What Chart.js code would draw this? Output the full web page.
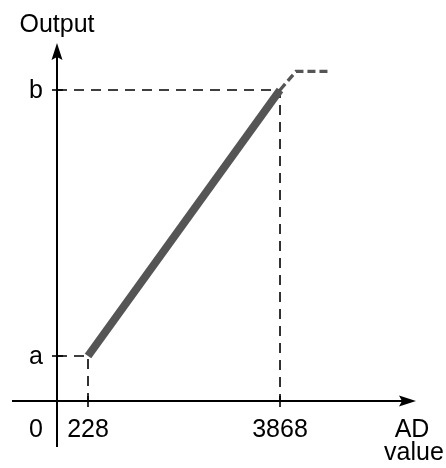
<!DOCTYPE html>
<html>
<head>
<meta charset="utf-8">
<script src="https://cdn.jsdelivr.net/npm/chart.js@4/dist/chart.umd.min.js"></script>
<style>
  html, body { margin: 0; padding: 0; background: #ffffff; }
  canvas { display: block; }
</style>
</head>
<body>
<canvas id="c" width="446" height="468"></canvas>
<script>
// ---- data ----
const xTickValues = [228, 3868];
const xTickLabels = ['228', '3868'];
const yTickValues = [1, 7];          // a, b
const yTickLabels = ['a', 'b'];
const adValues = [228, 3868];        // linear region, AD value
const outputValues = [1, 7];         // linear region, output (a .. b)
const satX = [3868, 4171, 4778];     // saturation (dashed) continuation
const satY = [7, 7.42, 7.42];
const xAxisTitle = ['AD', 'value'];
const yAxisTitle = 'Output';
const originLabel = '0';

const X_MIN = -359.7, X_MAX = 6446;
const Y_MIN = -0.015, Y_MAX = 8.06;

const FONT = '25px "Liberation Sans", Arial, sans-serif';

function pts(xs, ys) { return xs.map((x, i) => ({ x: x, y: ys[i] })); }

const guideA = [{ x: X_MIN, y: outputValues[0] }, { x: adValues[0], y: outputValues[0] }, { x: adValues[0], y: Y_MIN }];
const guideB = [{ x: X_MIN, y: outputValues[1] }, { x: adValues[1], y: outputValues[1] }, { x: adValues[1], y: Y_MIN }];

const axesPlugin = {
  id: 'axesPlugin',
  afterDatasetsDraw(chart) {
    const ctx = chart.ctx;
    const xs = chart.scales.x, ys = chart.scales.y;
    const ox = xs.left, oy = ys.bottom;
    const xEnd = xs.right, yEnd = ys.top;
    ctx.save();
    ctx.strokeStyle = '#000';
    ctx.fillStyle = '#000';
    ctx.lineWidth = 2;
    ctx.setLineDash([]);
    // x axis
    ctx.beginPath();
    ctx.moveTo(12, oy); ctx.lineTo(xEnd - 6, oy); ctx.stroke();
    // y axis
    ctx.beginPath();
    ctx.moveTo(ox, 447); ctx.lineTo(ox, yEnd + 6); ctx.stroke();
    // arrows
    ctx.beginPath();
    ctx.moveTo(xEnd, oy); ctx.lineTo(xEnd - 17, oy - 5.5); ctx.lineTo(xEnd - 14, oy); ctx.lineTo(xEnd - 17, oy + 5.5); ctx.closePath(); ctx.fill();
    ctx.beginPath();
    ctx.moveTo(ox, yEnd); ctx.lineTo(ox - 5.5, yEnd + 17); ctx.lineTo(ox, yEnd + 14); ctx.lineTo(ox + 5.5, yEnd + 17); ctx.closePath(); ctx.fill();
    // ticks
    ctx.lineWidth = 1.6;
    xTickValues.forEach(v => {
      const px = xs.getPixelForValue(v);
      ctx.beginPath(); ctx.moveTo(px, oy - 5); ctx.lineTo(px, oy + 6); ctx.stroke();
    });
    yTickValues.forEach(v => {
      const py = ys.getPixelForValue(v);
      ctx.beginPath(); ctx.moveTo(ox - 5, py); ctx.lineTo(ox + 6, py); ctx.stroke();
    });
    // labels
    ctx.font = FONT;
    ctx.textBaseline = 'alphabetic';
    ctx.textAlign = 'center';
    xTickValues.forEach((v, i) => {
      ctx.fillText(xTickLabels[i], xs.getPixelForValue(v), oy + 36);
    });
    ctx.textAlign = 'right';
    yTickValues.forEach((v, i) => {
      ctx.fillText(yTickLabels[i], ox - 14, ys.getPixelForValue(v) + 8);
    });
    ctx.fillText(originLabel, ox - 14, oy + 36);
    ctx.textAlign = 'center';
    ctx.fillText(yAxisTitle, ox, 32);
    ctx.fillText(xAxisTitle[0], 412, oy + 36);
    ctx.fillText(xAxisTitle[1], 414, oy + 59);
    ctx.restore();
  }
};

new Chart(document.getElementById('c'), {
  type: 'line',
  data: {
    datasets: [
      { data: pts(adValues, outputValues), borderColor: '#555555', borderWidth: 8, borderCapStyle: 'butt', order: 0 },
      { data: pts(satX, satY), borderColor: '#555555', borderWidth: 3.3, borderDash: [8, 4], order: 1 },
      { data: guideA, borderColor: '#000000', borderWidth: 1.6, borderDash: [10, 7], order: 2 },
      { data: guideB, borderColor: '#000000', borderWidth: 1.6, borderDash: [10, 7], order: 3 }
    ]
  },
  options: {
    responsive: false,
    animation: false,
    events: [],
    layout: { padding: { left: 57, right: 30, top: 43, bottom: 67 } },
    elements: { point: { radius: 0 }, line: { tension: 0, fill: false } },
    datasets: { line: { clip: false } },
    plugins: { legend: { display: false }, tooltip: { enabled: false } },
    scales: {
      x: { type: 'linear', min: X_MIN, max: X_MAX, display: false },
      y: { type: 'linear', min: Y_MIN, max: Y_MAX, display: false }
    }
  },
  plugins: [axesPlugin]
});
</script>
</body>
</html>
